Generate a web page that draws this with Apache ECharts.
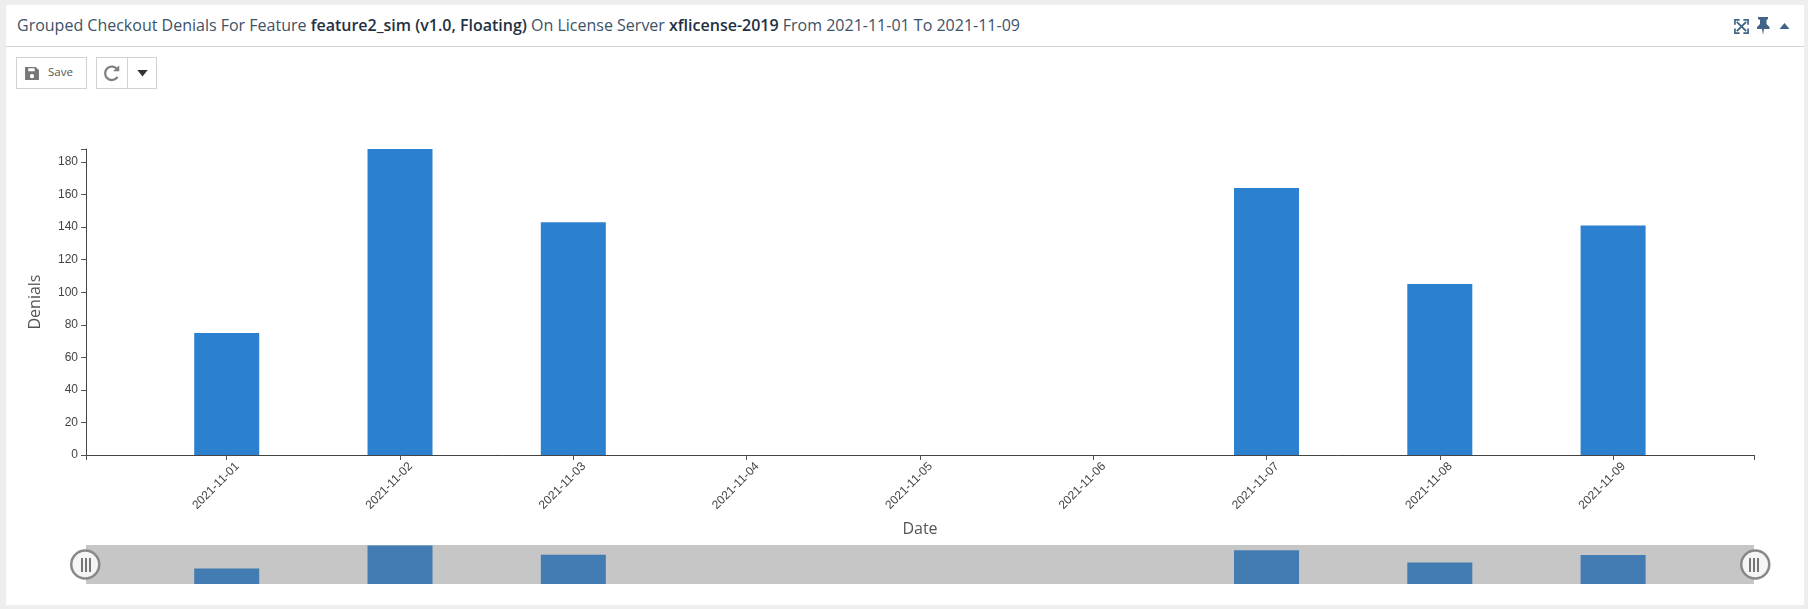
<!DOCTYPE html>
<html>
<head>
<meta charset="utf-8">
<title>Grouped Checkout Denials</title>
<script src="https://cdn.jsdelivr.net/npm/echarts@6/dist/echarts.min.js"></script>
<style>
    html, body { margin: 0; padding: 0; width: 1808px; height: 609px; overflow: hidden; background: #eeeeee; }
    #panel { position: absolute; left: 6px; top: 5px; width: 1798px; height: 600px; background: #fff; }
    #head { position: absolute; left: 0; top: 0; width: 1798px; height: 41px; border-bottom: 1px solid #d4d4d4; }
    #title { position: absolute; left: 11px; top: 9px; font: 16px "Open Sans", sans-serif; color: #3d5266; white-space: nowrap; }
    #title b { font-weight: 600; color: #1f3144; }
    .btn { position: absolute; top: 52px; height: 30px; border: 1px solid #d2d2d2; background: #fff; box-sizing: content-box; }
    #saveBtn { left: 10px; width: 69px; font: 11.500px "Open Sans", sans-serif; color: #555; }
    #saveBtn span { position: absolute; left: 31px; top: 6px; }
    #reloadBtn { left: 90px; width: 30px; }
    #moreBtn { left: 122px; width: 28px; border-left: 0; }
    svg { position: absolute; }
    #chart { position: absolute; left: 0; top: 0; width: 1808px; height: 609px; }
</style>
</head>
<body>
<div id="panel">
    <div id="head">
        <div id="title">Grouped Checkout Denials For Feature <b>feature2_sim (v1.0, Floating)</b> On License Server <b>xflicense-2019</b> From 2021-11-01 To 2021-11-09</div>
        <svg style="left:1728px;top:14px" width="15" height="15" viewBox="0 0 16 16" fill="none" stroke="#3f6485" stroke-width="2"><path d="M3 3l10 10M13 3L3 13"/><path d="M1 6V1h5M10 1h5v5M15 10v5h-5M6 15H1v-5" stroke-width="1.8"/></svg>
        <svg style="left:1750px;top:12px" width="14" height="18" viewBox="0 0 14 18" fill="#3f6485"><path d="M2 0h10v2l-1.500 1v4l3 3v2H8l-1 6-1-6H1v-2l3-3V3L2 2z"/></svg>
        <svg style="left:1772px;top:18px" width="13" height="7" viewBox="0 0 12 7" fill="#3f6485"><path d="M6 0l5 6H1z"/></svg>
    </div>
    <div class="btn" id="saveBtn">
        <svg style="left:8px;top:8px" width="14" height="15" viewBox="0 0 13 14" fill="#777"><path d="M0 1h10l3 3v9H0zM3 2v3h6V2zM6.500 7.500a2 2 0 100 4 2 2 0 000-4z" fill-rule="evenodd"/></svg>
        <span>Save</span>
    </div>
    <div class="btn" id="reloadBtn">
        <svg style="left:7px;top:6px" width="17" height="18" viewBox="0 0 15 16" fill="none" stroke="#808080" stroke-width="2"><path d="M12 11.500A6 6 0 1 1 12 5"/><path d="M13.500 1v5.500H8" fill="#808080" stroke="none"/></svg>
    </div>
    <div class="btn" id="moreBtn">
        <svg style="left:8px;top:12px" width="13" height="7" viewBox="0 0 10 6" fill="#333"><path d="M0.500 0h9L5 5.500z"/></svg>
    </div>
</div>
<div id="chart"></div>
<script>
    var dates = ['2021-11-01', '2021-11-02', '2021-11-03', '2021-11-04', '2021-11-05', '2021-11-06', '2021-11-07', '2021-11-08', '2021-11-09'];
    var denials = [75, 188, 143, 0, 0, 0, 164, 105, 141];
    var denialTicks = [0, 20, 40, 60, 80, 100, 120, 140, 160, 180];

    var chartDom = document.getElementById('chart');
    var chart = echarts.init(chartDom);

    // 坐标轴两端留白，和原图一样不是整格
    var xMin = -0.812;
    var xMax = 8.813;
    var yMax = 188;

    var axisFont = 'Liberation Sans';
    var points = dates.map(function (d, i) { return [i, denials[i]]; });
    var dateIndexes = dates.map(function (d, i) { return i; });

    function handleBars(cx) {
        return [-4, 0, 4].map(function (dx) {
            return {
                type: 'rect', z: 100,
                shape: { x: cx + dx - 1, y: 558, width: 2, height: 14 },
                style: { fill: '#777' }
            };
        });
    }

    var option = {
        animation: false,
        grid: [
            { left: 86, top: 149, width: 1668, height: 306 },
            { left: 86, top: 545, width: 1668, height: 39, show: true, backgroundColor: '#c6c6c6', borderWidth: 0 }
        ],
        xAxis: [
            {
                type: 'value', gridIndex: 0, min: xMin, max: xMax,
                name: 'Date', nameLocation: 'middle', nameGap: 66,
                nameTextStyle: { fontFamily: 'Open Sans', fontSize: 16, color: '#555' },
                splitLine: { show: false },
                axisLine: { onZero: false, lineStyle: { color: '#444' } },
                axisTick: {
                    show: true, length: 5, lineStyle: { color: '#555' },
                    customValues: [xMin].concat(dateIndexes, [xMax])
                },
                axisLabel: {
                    rotate: 45, margin: 6, fontFamily: axisFont, fontSize: 12, color: '#444',
                    verticalAlign: 'top', padding: [4, -5, 0, 0],
                    customValues: dateIndexes,
                    formatter: function (v) { return dates[v] || ''; }
                }
            },
            { type: 'value', gridIndex: 1, min: xMin, max: xMax, show: false, splitLine: { show: false } }
        ],
        yAxis: [
            {
                type: 'value', gridIndex: 0, min: 0, max: yMax,
                name: 'Denials', nameLocation: 'middle', nameGap: 43,
                nameTextStyle: { fontFamily: 'Open Sans', fontSize: 16, color: '#555' },
                splitLine: { show: false },
                axisLine: { show: true, onZero: false, lineStyle: { color: '#444' } },
                axisTick: {
                    show: true, length: 5, lineStyle: { color: '#555' },
                    customValues: denialTicks.concat([yMax])
                },
                axisLabel: {
                    margin: 8, fontFamily: axisFont, fontSize: 12, color: '#444',
                    customValues: denialTicks
                }
            },
            { type: 'value', gridIndex: 1, min: 0, max: 190, show: false, splitLine: { show: false } }
        ],
        dataZoom: [
            {
                type: 'slider', xAxisIndex: [0, 1], filterMode: 'none',
                left: 82, width: 1672, top: 545, height: 39,
                start: 0, end: 100,
                showDetail: false, showDataShadow: false, brushSelect: false, moveHandleSize: 0,
                backgroundColor: 'transparent', fillerColor: 'transparent', borderColor: 'transparent',
                handleIcon: 'circle', handleSize: 28,
                handleStyle: { color: '#f5f5f5', borderColor: '#888', borderWidth: 2.5 }
            }
        ],
        series: [
            {
                name: 'Denials', type: 'bar', xAxisIndex: 0, yAxisIndex: 0,
                barWidth: 65, itemStyle: { color: '#2b80d0' }, data: points
            },
            {
                name: 'Denials overview', type: 'bar', xAxisIndex: 1, yAxisIndex: 1,
                barWidth: 65, itemStyle: { color: '#427cb2' }, data: points
            }
        ],
        graphic: handleBars(86).concat(handleBars(1754))
    };

    chart.setOption(option);

    window.onresize = function () {
        chart.resize();
    };
</script>
</body>
</html>
